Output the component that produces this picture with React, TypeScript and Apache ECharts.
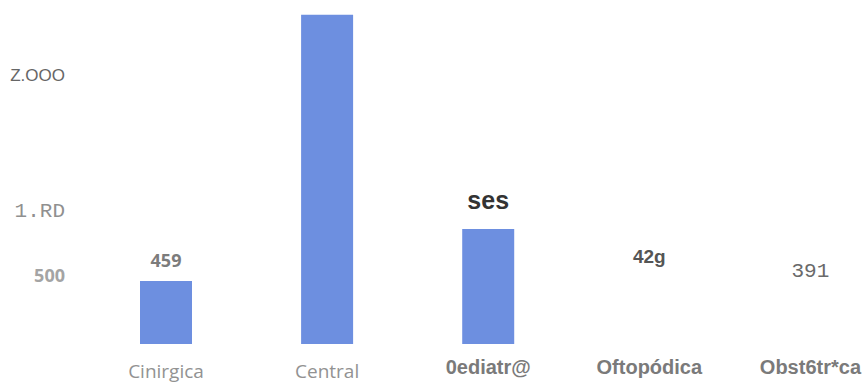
import React, { useEffect, useRef } from "react";
import * as echarts from "echarts";

const categories = ["Cinirgica", "Central", "0ediatr@", "Oftopódica", "Obst6tr*ca"];
const categoryStyles = ["light", "light", "heavy", "heavy", "heavy"];
const values = [459, 2400, 838, 429, 391];
const valueLabels = ["459", "", "ses", "42g", "391"];
const valueLabelStyles = ["soft", "soft", "big", "mid", "mono"];
const valueLabelDistances = [12, 10, 17, 19, 8];
const visibleBars = [true, true, true, false, false];
const yTickValues = [500, 1000, 2000];
const yTickLabels = ["500", "1.RD", "Z.OOO"];
const yTickStyles = ["soft", "mono", "sans"];

const BAR_COLOR = "#6d8fe0";

export default function App() {
  const ref = useRef<HTMLDivElement>(null);

  useEffect(() => {
    document.body.style.margin = "0";
    if (!ref.current) return;
    const chart = echarts.init(ref.current, null, { renderer: "svg" });

    const yRich: any = {
      soft: { fontFamily: "Open Sans", fontWeight: 700, fontSize: 18, color: "#a4a4a4" },
      mono: { fontFamily: "Liberation Mono", fontSize: 21, color: "#909090", padding: [10, 0, 0, 0] },
      sans: { fontFamily: "Liberation Sans", fontSize: 17, color: "#666666", padding: [12, 0, 0, 0] },
    };

    const xRich: any = {
      light: { fontFamily: "Open Sans", fontSize: 19, color: "#929292", padding: [4, 0, 0, 0] },
      heavy: { fontFamily: "Liberation Sans", fontWeight: 700, fontSize: 20, color: "#7a7a7a" },
    };

    const labelRich: any = {
      soft: { fontFamily: "Open Sans", fontWeight: 700, fontSize: 18, color: "#7c7c7c" },
      big: { fontFamily: "Liberation Sans", fontWeight: 700, fontSize: 25, color: "#333333" },
      mid: { fontFamily: "Liberation Sans", fontWeight: 700, fontSize: 19, color: "#555555" },
      mono: { fontFamily: "Liberation Mono", fontSize: 21, color: "#6a6a6a" },
    };

    const data = values.map((v, i) => ({
      value: v,
      itemStyle: { color: visibleBars[i] ? BAR_COLOR : "rgba(0,0,0,0)" },
      label: {
        show: valueLabels[i] !== "",
        position: "top",
        distance: valueLabelDistances[i],
        formatter: valueLabels[i] ? `{${valueLabelStyles[i]}|${valueLabels[i]}}` : "",
        rich: labelRich,
      },
    }));

    chart.setOption({
      animation: false,
      backgroundColor: "#ffffff",
      grid: { left: 166, right: 52, top: 1, bottom: 41, containLabel: false },
      xAxis: {
        type: "category",
        data: categories,
        boundaryGap: false,
        axisLine: { show: false },
        axisTick: { show: false },
        splitLine: { show: false },
        axisLabel: {
          interval: 0,
          margin: 13,
          hideOverlap: false,
          verticalAlign: "top",
          formatter: (val: string, idx: number) => `{${categoryStyles[idx]}|${val}}`,
          rich: xRich,
        },
      },
      yAxis: {
        type: "value",
        min: 0,
        max: 2500,
        interval: 500,
        axisLine: { show: false },
        axisTick: { show: false },
        splitLine: { show: false },
        axisLabel: {
          margin: 101,
          formatter: (val: number) => {
            const k = yTickValues.indexOf(val);
            return k >= 0 ? `{${yTickStyles[k]}|${yTickLabels[k]}}` : "";
          },
          rich: yRich,
        },
      },
      series: [
        {
          type: "bar",
          data,
          barWidth: 52,
        },
      ],
    });

    return () => chart.dispose();
  }, []);

  return (
    <div
      ref={ref}
      style={{ position: "absolute", left: 0, top: 0, width: 864, height: 385, background: "#fff" }}
    />
  );
}
